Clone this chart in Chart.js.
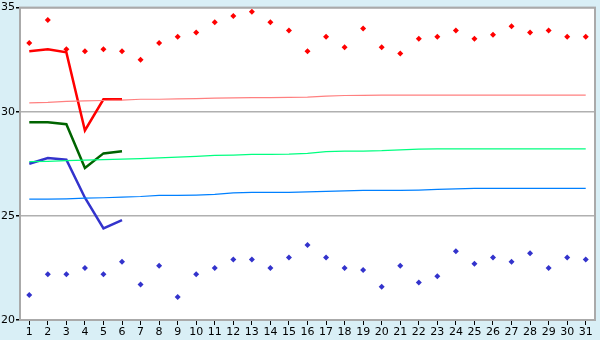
<!DOCTYPE html>
<html>
<head>
<meta charset="utf-8">
<script src="https://cdn.jsdelivr.net/npm/chart.js@4"></script>
<style>
  html, body { margin: 0; padding: 0; background: #d9eff6; }
  #wrap { width: 600px; height: 340px; }
</style>
</head>
<body>
<div id="wrap"><canvas id="chart" width="600" height="340"></canvas></div>
<script>
// ================= DATA =================
const days = ["1","2","3","4","5","6","7","8","9","10","11","12","13","14","15","16",
  "17","18","19","20","21","22","23","24","25","26","27","28","29","30","31"];

// record highs / lows (dots)
const recordMax = [33.3, 34.4, 33.0, 32.9, 33.0, 32.9, 32.5, 33.3, 33.6, 33.8, 34.3, 34.6, 34.8, 34.3, 33.9, 32.9,
  33.6, 33.1, 34.0, 33.1, 32.8, 33.5, 33.6, 33.9, 33.5, 33.7, 34.1, 33.8, 33.9, 33.6, 33.6];
const recordMin = [21.2, 22.2, 22.2, 22.5, 22.2, 22.8, 21.7, 22.6, 21.1, 22.2, 22.5, 22.9, 22.9, 22.5, 23.0, 23.6,
  23.0, 22.5, 22.4, 21.6, 22.6, 21.8, 22.1, 23.3, 22.7, 23.0, 22.8, 23.2, 22.5, 23.0, 22.9];

// normals (thin lines)
const normalMax = [30.43, 30.45, 30.5, 30.52, 30.54, 30.56, 30.6, 30.6, 30.62, 30.63, 30.65, 30.67, 30.68, 30.68, 30.69, 30.7,
  30.75, 30.78, 30.79, 30.8, 30.8, 30.8, 30.8, 30.8, 30.8, 30.8, 30.8, 30.8, 30.8, 30.8, 30.8];
const normalMean = [27.6, 27.62, 27.65, 27.68, 27.7, 27.72, 27.75, 27.78, 27.82, 27.86, 27.9, 27.92, 27.95, 27.95, 27.96, 28.0,
  28.08, 28.11, 28.11, 28.13, 28.17, 28.2, 28.22, 28.22, 28.22, 28.22, 28.22, 28.22, 28.22, 28.22, 28.22];
const normalMin = [25.8, 25.8, 25.82, 25.85, 25.87, 25.9, 25.93, 25.98, 25.98, 26.0, 26.03, 26.1, 26.13, 26.13, 26.13, 26.15,
  26.18, 26.2, 26.22, 26.22, 26.22, 26.24, 26.27, 26.3, 26.32, 26.32, 26.32, 26.32, 26.32, 26.32, 26.32];

// this month's observations (thick lines)
const obsMax = [32.9, 33.0, 32.85, 29.1, 30.6, 30.6];
const obsMean = [29.5, 29.5, 29.4, 27.3, 28.0, 28.1];
const obsMin = [27.5, 27.78, 27.7, 25.87, 24.4, 24.8];

const yTicks = [20, 25, 30, 35];

// ================= CHART =================
// light blue page, white plot area, grey frame
const frame = {
  id: "frame",
  beforeDraw(chart) {
    const { ctx, chartArea: a } = chart;
    ctx.save();
    ctx.fillStyle = "#d9eff6";
    ctx.fillRect(0, 0, chart.width, chart.height);
    ctx.fillStyle = "#ffffff";
    ctx.fillRect(a.left, a.top, a.right - a.left, a.bottom - a.top);
    ctx.restore();
  },
  afterDatasetsDraw(chart) {
    const { ctx, chartArea: a } = chart;
    ctx.save();
    ctx.strokeStyle = "#aaaaaa";
    ctx.lineWidth = 2;
    ctx.strokeRect(a.left, a.top, a.right - a.left, a.bottom - a.top);
    ctx.restore();
  }
};

const thin = (data, color) => ({
  data, borderColor: color, borderWidth: 1.2, pointRadius: 0, tension: 0, fill: false
});
const thick = (data, color) => ({
  data, borderColor: color, borderWidth: 2.5, pointRadius: 0, tension: 0, fill: false
});
const dots = (data, color) => ({
  data, showLine: false, pointStyle: "rectRot", pointRadius: 3, pointBorderWidth: 0,
  pointBackgroundColor: color, borderColor: color
});

new Chart(document.getElementById("chart").getContext("2d"), {
  type: "line",
  data: {
    labels: days,
    datasets: [
      thin(normalMax, "#ff8080"),
      thin(normalMean, "#00ff80"),
      thin(normalMin, "#0080ff"),
      dots(recordMax, "#ff0000"),
      dots(recordMin, "#3333cc"),
      thick(obsMax, "#ff0000"),
      thick(obsMean, "#006400"),
      thick(obsMin, "#3333cc")
    ]
  },
  options: {
    responsive: false,
    animation: false,
    layout: { padding: { top: 5, right: 5, left: 0, bottom: 0 } },
    plugins: { legend: { display: false }, tooltip: { enabled: false } },
    scales: {
      x: {
        offset: true,
        grid: { drawOnChartArea: false, tickLength: 5, tickColor: "#000000", color: "#aaaaaa" },
        border: { color: "#aaaaaa", width: 2 },
        ticks: { color: "#000000", font: { family: "DejaVu Sans", size: 11 }, padding: 1, maxRotation: 0, autoSkip: false },
        afterFit(scale) { scale.height = 20; }
      },
      y: {
        min: 20,
        max: 35,
        afterBuildTicks(scale) { scale.ticks = yTicks.map(v => ({ value: v })); },
        grid: { color: "#b0b0b0", lineWidth: 1.5, tickLength: 4, tickColor: "#000000" },
        border: { color: "#aaaaaa", width: 2 },
        ticks: { color: "#000000", font: { family: "DejaVu Sans", size: 11 }, padding: 1 },
        afterFit(scale) { scale.width = 20; }
      }
    }
  },
  plugins: [frame]
});
</script>
</body>
</html>
